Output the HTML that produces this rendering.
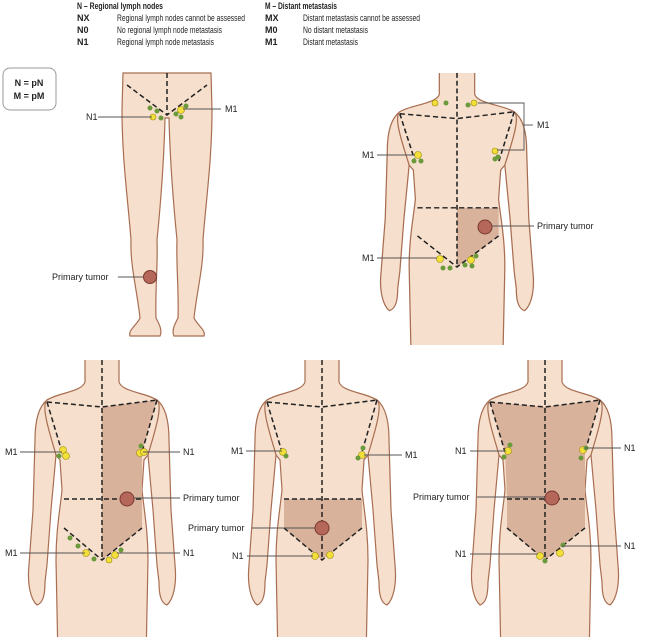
<!DOCTYPE html>
<html><head><meta charset="utf-8"><style>
html,body{margin:0;padding:0;background:#fff;}
svg{display:block;font-family:"Liberation Sans",sans-serif;}
</style></head><body>
<svg width="650" height="637" viewBox="0 0 650 637" xmlns="http://www.w3.org/2000/svg">
<defs>
<g id="arms">
<path d="M-55,40 C-65,48 -67,65 -67,80 L-69,150 L-73,205 C-75,225 -71,240 -65,245 C-59,243 -57,235 -57,222 L-55,205 L-51,150 L-46,95 Z" fill="#f6dfcc" stroke="#a86e52" stroke-width="1.2"/>
<path d="M55,40 C65,48 67,65 67,80 L69,150 L73,205 C75,225 71,240 65,245 C59,243 57,235 57,222 L55,205 L51,150 L46,95 Z" fill="#f6dfcc" stroke="#a86e52" stroke-width="1.2"/>
</g>
<path id="torso" d="M-17,0 L-17,22 C-20,32 -45,33 -55,40 C-62,46 -50,80 -46,95 L-42,100 L-40,130 C-42,150 -46,170 -46,200 L-44,300 L44,300 L46,200 C46,170 42,150 40,130 L42,100 L46,95 C50,80 62,46 55,40 C45,33 20,32 17,22 L17,0" fill="#f6dfcc" stroke="#a86e52" stroke-width="1.2"/>
<g id="dash" fill="none" stroke="#222" stroke-width="1.5" stroke-dasharray="5,3">
<polyline points="-55,42 0,47 55,40"/>
<line x1="-55" y1="42" x2="-40" y2="92"/><line x1="55" y1="40" x2="40" y2="92"/>
<line x1="0" y1="0" x2="0" y2="200"/>
<line x1="-38" y1="139" x2="40" y2="139"/>
<polyline points="-38,168 0,200 40,168"/>
</g>
</defs>

<!-- header -->
<g font-size="9" fill="#222">
<text x="77" y="9" font-weight="bold" textLength="86" lengthAdjust="spacingAndGlyphs">N – Regional lymph nodes</text>
<text x="77" y="21" font-weight="bold">NX</text><text x="117" y="21" textLength="128" lengthAdjust="spacingAndGlyphs">Regional lymph nodes cannot be assessed</text>
<text x="77" y="33" font-weight="bold">N0</text><text x="117" y="33" textLength="105" lengthAdjust="spacingAndGlyphs">No regional lymph node metastasis</text>
<text x="77" y="45" font-weight="bold">N1</text><text x="117" y="45" textLength="97" lengthAdjust="spacingAndGlyphs">Regional lymph node metastasis</text>
<text x="265" y="9" font-weight="bold" textLength="72" lengthAdjust="spacingAndGlyphs">M – Distant metastasis</text>
<text x="265" y="21" font-weight="bold">MX</text><text x="303" y="21" textLength="117" lengthAdjust="spacingAndGlyphs">Distant metastasis cannot be assessed</text>
<text x="265" y="33" font-weight="bold">M0</text><text x="303" y="33" textLength="65" lengthAdjust="spacingAndGlyphs">No distant metastasis</text>
<text x="265" y="45" font-weight="bold">M1</text><text x="303" y="45" textLength="55" lengthAdjust="spacingAndGlyphs">Distant metastasis</text>
</g>
<rect x="3" y="68" width="53" height="42" rx="7" fill="#fff" stroke="#999" stroke-width="1"/>
<text x="29" y="86" font-size="9" font-weight="bold" text-anchor="middle" fill="#222">N = pN</text>
<text x="29" y="99" font-size="9" font-weight="bold" text-anchor="middle" fill="#222">M = pM</text>

<!-- legs figure -->
<g fill="#f6dfcc" stroke="#a86e52" stroke-width="1.2">
<path d="M123,73 L122,110 C122,160 128,200 131,240 C130,265 137,290 140,318 C136,326 128,330 130,336 L160,336 C163,330 158,322 156,318 C155,290 158,265 157,240 C160,210 164,160 165,118 L169,118 C170,160 174,210 177,240 C176,265 179,290 178,318 C176,322 171,330 174,336 L204,336 C206,330 198,326 194,318 C197,290 204,265 203,240 C206,200 212,160 212,110 L211,73 Z"/>
</g>
<g fill="none" stroke="#222" stroke-width="1.5" stroke-dasharray="5,3">
<polyline points="127,85 167,115 207,85"/><line x1="167" y1="73" x2="167" y2="115"/>
</g>
<circle cx="150" cy="277" r="6.5" fill="#b5675a" stroke="#7a3a30"/>

<!-- top right figure -->
<clipPath id="c1"><rect x="300" y="60" width="300" height="285"/></clipPath>
<g clip-path="url(#c1)">
<g transform="translate(457,73) scale(1.04,0.97)">
<use href="#arms"/><use href="#torso"/>
<polygon points="0,139 40,139 40,168 0,200" fill="#d9b29c"/>
<use href="#dash"/>
</g></g>
<circle cx="485" cy="227" r="7" fill="#b5675a" stroke="#7a3a30"/>

<!-- bottom figures -->
<g transform="translate(102,360)"><use href="#arms"/><use href="#torso"/>
<polygon points="0,47 55,40 40,92 40,139 40,168 0,200" fill="#d9b29c"/><use href="#dash"/></g>
<circle cx="127" cy="499" r="7" fill="#b5675a" stroke="#7a3a30"/>
<g transform="translate(322,360)"><use href="#arms"/><use href="#torso"/>
<polygon points="-38,139 40,139 40,168 0,200 -38,168" fill="#d9b29c"/><use href="#dash"/></g>
<circle cx="322" cy="528" r="7" fill="#b5675a" stroke="#7a3a30"/>
<g transform="translate(545,360)"><use href="#arms"/><use href="#torso"/>
<polygon points="-55,42 0,47 55,40 40,92 40,139 40,168 0,200 -38,168 -38,139 -40,92" fill="#d9b29c"/><use href="#dash"/></g>
<circle cx="552" cy="498" r="7" fill="#b5675a" stroke="#7a3a30"/>

<!-- nodes -->
<g stroke="#9a8a00" stroke-width="0.6" fill="#f2df3a">
<circle cx="153" cy="117" r="3"/><circle cx="181" cy="110" r="3.5"/>
<circle cx="435" cy="103" r="3"/><circle cx="474" cy="103" r="3"/><circle cx="418" cy="155" r="3.5"/><circle cx="495" cy="151" r="3"/>
<circle cx="440" cy="259" r="3.5"/><circle cx="471" cy="260" r="3.5"/>
<circle cx="63" cy="450" r="3.5"/><circle cx="66" cy="456" r="3.5"/><circle cx="140" cy="453" r="3.5"/><circle cx="144" cy="452" r="3.5"/>
<circle cx="86" cy="553" r="3.5"/><circle cx="115" cy="555" r="3.5"/><circle cx="109" cy="560" r="3"/>
<circle cx="283" cy="452" r="3.5"/><circle cx="362" cy="455" r="3.5"/><circle cx="315" cy="556" r="3.5"/><circle cx="330" cy="555" r="3.5"/>
<circle cx="508" cy="451" r="3.5"/><circle cx="583" cy="450" r="3.5"/><circle cx="540" cy="556" r="3.5"/><circle cx="560" cy="553" r="3.5"/>
</g>
<g fill="#6a9a3a">
<circle cx="150" cy="108" r="2.5"/><circle cx="157" cy="111" r="2.5"/><circle cx="161" cy="118" r="2.5"/><circle cx="176" cy="114" r="2.5"/><circle cx="181" cy="117" r="2.5"/><circle cx="186" cy="106" r="2.5"/>
<circle cx="446" cy="103" r="2.5"/><circle cx="468" cy="105" r="2.5"/><circle cx="414" cy="161" r="2.5"/><circle cx="421" cy="161" r="2.5"/><circle cx="495" cy="159" r="2.5"/><circle cx="498" cy="157" r="2.5"/>
<circle cx="443" cy="268" r="2.5"/><circle cx="450" cy="268" r="2.5"/><circle cx="465" cy="265" r="2.5"/><circle cx="472" cy="266" r="2.5"/><circle cx="476" cy="256" r="2.5"/>
<circle cx="59" cy="456" r="2.5"/><circle cx="141" cy="446" r="2.5"/><circle cx="70" cy="538" r="2.5"/><circle cx="78" cy="546" r="2.5"/><circle cx="94" cy="559" r="2.5"/><circle cx="121" cy="550" r="2.5"/>
<circle cx="286" cy="456" r="2.5"/><circle cx="358" cy="458" r="2.5"/><circle cx="363" cy="448" r="2.5"/>
<circle cx="504" cy="457" r="2.5"/><circle cx="510" cy="445" r="2.5"/><circle cx="581" cy="458" r="2.5"/><circle cx="586" cy="448" r="2.5"/><circle cx="545" cy="561" r="2.5"/><circle cx="563" cy="545" r="2.5"/>
</g>

<!-- leader lines & labels -->
<g stroke="#555" stroke-width="0.9" fill="none">
<line x1="98" y1="117" x2="152" y2="117"/><line x1="183" y1="109" x2="221" y2="109"/>
<line x1="118" y1="277" x2="143" y2="277"/>
<polyline points="478,103 524,103 524,150 497,150"/><line x1="524" y1="125" x2="533" y2="125"/>
<line x1="377" y1="155" x2="415" y2="155"/><line x1="492" y1="226" x2="534" y2="226"/><line x1="377" y1="258" x2="437" y2="258"/>
<line x1="20" y1="452" x2="62" y2="452"/><line x1="143" y1="452" x2="180" y2="452"/><line x1="134" y1="498" x2="180" y2="498"/>
<line x1="20" y1="553" x2="85" y2="553"/><line x1="117" y1="553" x2="180" y2="553"/>
<line x1="246" y1="451" x2="282" y2="451"/><line x1="364" y1="455" x2="402" y2="455"/>
<line x1="252" y1="528" x2="315" y2="528"/><line x1="247" y1="556" x2="313" y2="556"/>
<line x1="470" y1="451" x2="506" y2="451"/><line x1="585" y1="448" x2="621" y2="448"/>
<line x1="477" y1="497" x2="545" y2="497"/><line x1="470" y1="554" x2="538" y2="554"/><line x1="562" y1="546" x2="621" y2="546"/>
</g>
<g font-size="9" fill="#222">
<text x="86" y="120">N1</text><text x="225" y="112">M1</text><text x="52" y="280">Primary tumor</text>
<text x="537" y="128">M1</text><text x="362" y="158">M1</text><text x="537" y="229">Primary tumor</text><text x="362" y="261">M1</text>
<text x="5" y="455">M1</text><text x="183" y="455">N1</text><text x="183" y="501">Primary tumor</text><text x="5" y="556">M1</text><text x="183" y="556">N1</text>
<text x="231" y="454">M1</text><text x="405" y="458">M1</text><text x="188" y="531">Primary tumor</text><text x="232" y="559">N1</text>
<text x="455" y="454">N1</text><text x="624" y="451">N1</text><text x="413" y="500">Primary tumor</text><text x="455" y="557">N1</text><text x="624" y="549">N1</text>
</g>
</svg>
</body></html>
